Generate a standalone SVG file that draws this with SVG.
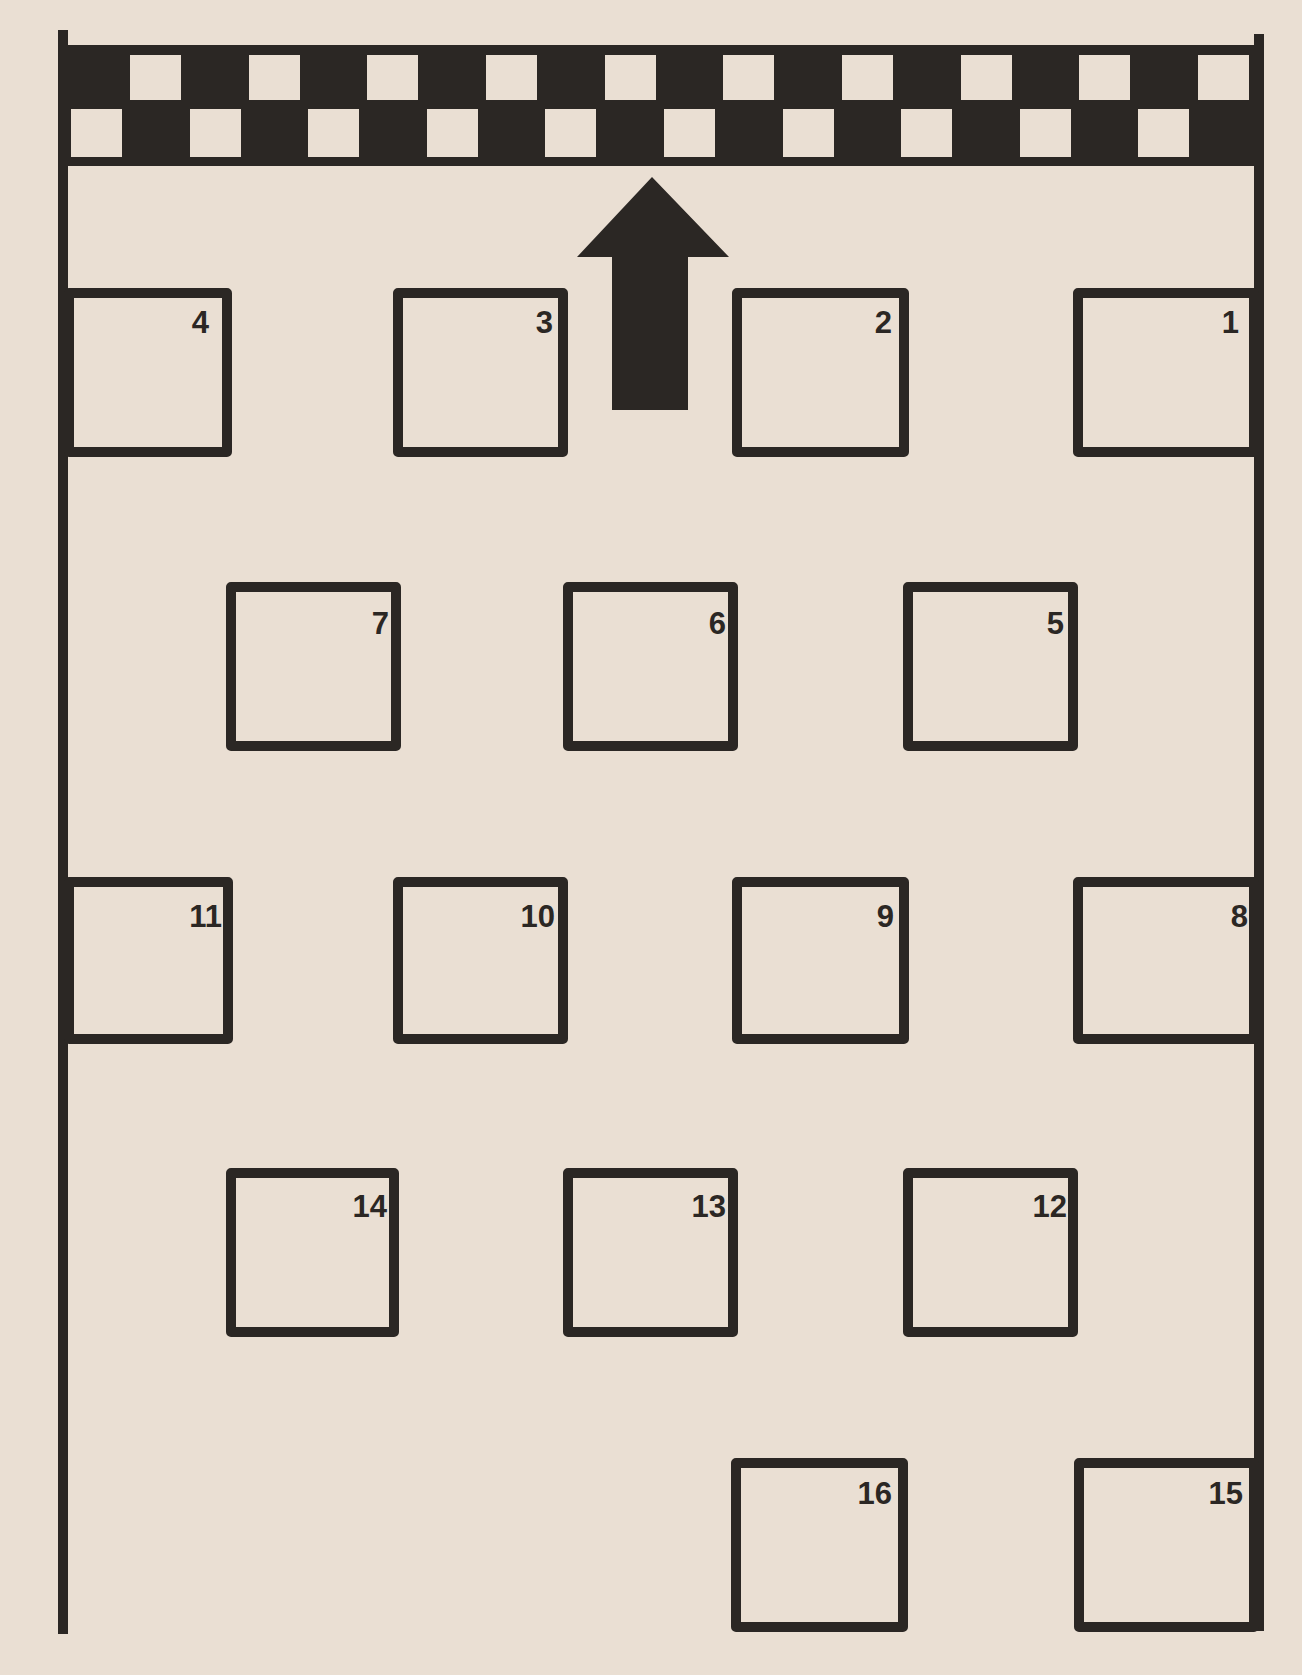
<svg xmlns="http://www.w3.org/2000/svg" width="1302" height="1675" viewBox="0 0 1302 1675">
<style>
.bg{fill:#eadfd3}
.ink{fill:#2b2724}
.line{stroke:#2b2724;stroke-width:10;fill:none;stroke-linecap:butt}
.box{fill:none;stroke:#2b2724;stroke-width:10;stroke-linejoin:round}
.lt{fill:#eadfd3}
.num{font-family:"Liberation Sans",Arial,sans-serif;font-weight:bold;font-size:31px;fill:#2b2724;text-anchor:end}
</style>
<rect class="bg" x="0" y="0" width="1302" height="1675"/>
<g id="walls">
<line class="line" x1="63" y1="30" x2="63" y2="1634"/>
<line class="line" x1="1259" y1="34" x2="1259" y2="1631"/>
</g>
<g id="checkered-band">
<rect class="ink" x="59" y="45" width="1205" height="121"/>
<g class="lt">
<rect x="71" y="109" width="51" height="48"/>
<rect x="130" y="55" width="51" height="45"/>
<rect x="190" y="109" width="51" height="48"/>
<rect x="249" y="55" width="51" height="45"/>
<rect x="308" y="109" width="51" height="48"/>
<rect x="367" y="55" width="51" height="45"/>
<rect x="427" y="109" width="51" height="48"/>
<rect x="486" y="55" width="51" height="45"/>
<rect x="545" y="109" width="51" height="48"/>
<rect x="605" y="55" width="51" height="45"/>
<rect x="664" y="109" width="51" height="48"/>
<rect x="723" y="55" width="51" height="45"/>
<rect x="783" y="109" width="51" height="48"/>
<rect x="842" y="55" width="51" height="45"/>
<rect x="901" y="109" width="51" height="48"/>
<rect x="961" y="55" width="51" height="45"/>
<rect x="1020" y="109" width="51" height="48"/>
<rect x="1079" y="55" width="51" height="45"/>
<rect x="1138" y="109" width="51" height="48"/>
<rect x="1198" y="55" width="51" height="45"/>
</g>
</g>
<g id="arrow">
<polygon class="ink" points="652,177 729,257 688,257 688,410 612,410 612,257 577,257"/>
</g>
<g id="connectors"></g>
<g id="node-4"><rect class="box" x="69" y="293" width="158" height="159"/><text class="num" x="209" y="333">4</text></g>
<g id="node-3"><rect class="box" x="398" y="293" width="165" height="159"/><text class="num" x="553" y="333">3</text></g>
<g id="node-2"><rect class="box" x="737" y="293" width="167" height="159"/><text class="num" x="892" y="333">2</text></g>
<g id="node-1"><rect class="box" x="1078" y="293" width="176" height="159"/><text class="num" x="1239" y="333">1</text></g>
<g id="node-7"><rect class="box" x="231" y="587" width="165" height="159"/><text class="num" x="389" y="634">7</text></g>
<g id="node-6"><rect class="box" x="568" y="587" width="165" height="159"/><text class="num" x="726" y="634">6</text></g>
<g id="node-5"><rect class="box" x="908" y="587" width="165" height="159"/><text class="num" x="1064" y="634">5</text></g>
<g id="node-11"><rect class="box" x="69" y="882" width="159" height="157"/><text class="num" x="222" y="927">11</text></g>
<g id="node-10"><rect class="box" x="398" y="882" width="165" height="157"/><text class="num" x="555" y="927">10</text></g>
<g id="node-9"><rect class="box" x="737" y="882" width="167" height="157"/><text class="num" x="894" y="927">9</text></g>
<g id="node-8"><rect class="box" x="1078" y="882" width="176" height="157"/><text class="num" x="1248" y="927">8</text></g>
<g id="node-14"><rect class="box" x="231" y="1173" width="163" height="159"/><text class="num" x="387" y="1217">14</text></g>
<g id="node-13"><rect class="box" x="568" y="1173" width="165" height="159"/><text class="num" x="726" y="1217">13</text></g>
<g id="node-12"><rect class="box" x="908" y="1173" width="165" height="159"/><text class="num" x="1067" y="1217">12</text></g>
<g id="node-16"><rect class="box" x="736" y="1463" width="167" height="164"/><text class="num" x="892" y="1504">16</text></g>
<g id="node-15"><rect class="box" x="1079" y="1463" width="175" height="164"/><text class="num" x="1243" y="1504">15</text></g>
</svg>
